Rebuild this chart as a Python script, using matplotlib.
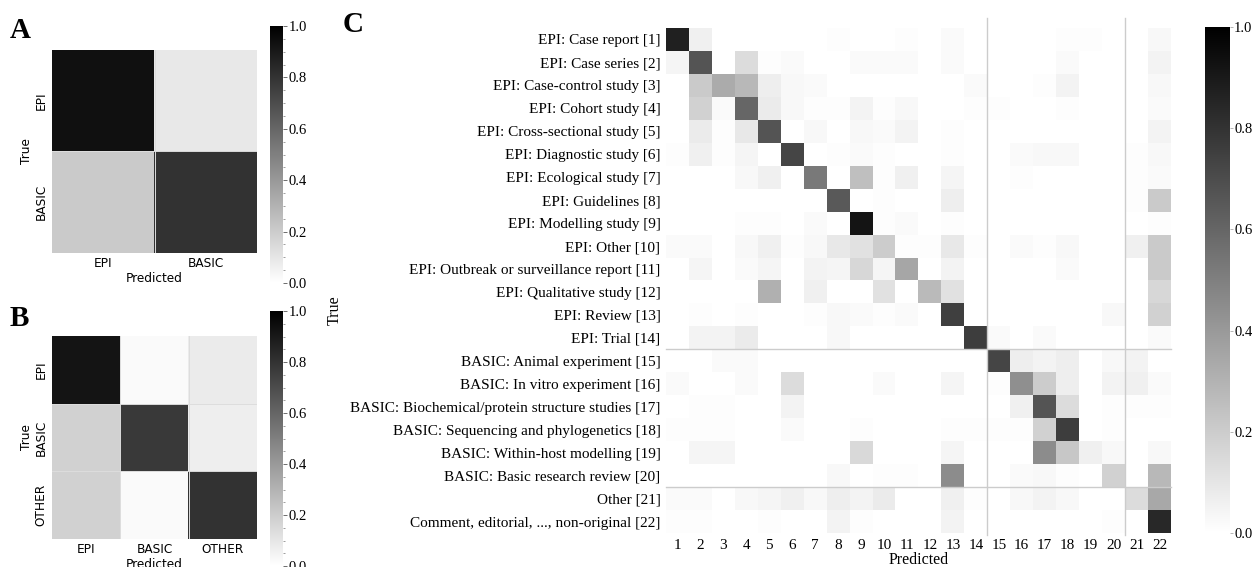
import numpy as np
import matplotlib
matplotlib.use("Agg")
from matplotlib import pyplot as plt
from matplotlib.ticker import AutoMinorLocator

###################################################################################################
# Data
###################################################################################################
labelsA = ["EPI", "BASIC"]
confA = [[0.93, 0.09],
         [0.21, 0.80]]

labelsB = ["EPI", "BASIC", "OTHER"]
confB = [[0.92, 0.02, 0.08],
         [0.18, 0.77, 0.07],
         [0.18, 0.02, 0.80]]

labelsC = ["EPI: Case report [1]",
           "EPI: Case series [2]",
           "EPI: Case-control study [3]",
           "EPI: Cohort study [4]",
           "EPI: Cross-sectional study [5]",
           "EPI: Diagnostic study [6]",
           "EPI: Ecological study [7]",
           "EPI: Guidelines [8]",
           "EPI: Modelling study [9]",
           "EPI: Other [10]",
           "EPI: Outbreak or surveillance report [11]",
           "EPI: Qualitative study [12]",
           "EPI: Review [13]",
           "EPI: Trial [14]",
           "BASIC: Animal experiment [15]",
           "BASIC: In vitro experiment [16]",
           "BASIC: Biochemical/protein structure studies [17]",
           "BASIC: Sequencing and phylogenetics [18]",
           "BASIC: Within-host modelling [19]",
           "BASIC: Basic research review [20]",
           "Other [21]",
           "Comment, editorial, ..., non-original [22]"]
ticksC = [str(i) for i in range(1, 23)]
groupBreaks = [14, 20]   # EPI | BASIC | OTHER

confC = [
    [.87, .06, 0, 0, 0, 0, 0, .01, 0, 0, .01, 0, .02, 0, 0, 0, 0, .01, .01, 0, 0, .03],
    [.04, .67, 0, .14, .01, .02, 0, 0, .02, .02, .02, 0, .02, 0, 0, 0, 0, .02, 0, 0, 0, .05],
    [0, .21, .33, .28, .07, .03, .02, 0, 0, 0, 0, 0, 0, .02, 0, 0, .01, .05, 0, 0, 0, .03],
    [0, .18, .02, .60, .08, .03, .01, .01, .05, .01, .03, 0, 0, .01, .01, 0, 0, .01, 0, 0, 0, .02],
    [0, .08, .01, .09, .67, 0, .03, 0, .03, .02, .05, 0, .01, 0, 0, 0, 0, 0, 0, 0, 0, .05],
    [.01, .06, .01, .04, 0, .73, 0, .01, .02, .01, 0, 0, .01, 0, 0, .02, .03, .03, 0, 0, .01, .03],
    [0, 0, 0, .03, .06, 0, .52, 0, .25, .01, .06, 0, .04, 0, 0, .01, 0, 0, 0, 0, .01, .02],
    [0, 0, 0, 0, 0, 0, 0, .65, 0, .01, 0, 0, .07, 0, 0, 0, 0, 0, 0, 0, .01, .21],
    [0, 0, 0, .01, .01, 0, .02, 0, .92, .01, .02, 0, .01, 0, 0, 0, 0, 0, 0, 0, 0, .01],
    [.02, .02, 0, .03, .06, .01, .03, .09, .12, .20, .01, .01, .09, .01, 0, .02, .01, .03, 0, 0, .06, .21],
    [0, .04, 0, .02, .04, 0, .05, .04, .16, .04, .35, 0, .05, 0, 0, 0, 0, .02, 0, 0, 0, .21],
    [0, 0, 0, 0, .31, 0, .06, 0, 0, .12, 0, .27, .12, 0, 0, 0, 0, 0, 0, 0, 0, .16],
    [0, .01, 0, .01, 0, 0, .01, .03, .02, .01, .02, 0, .75, 0, 0, 0, 0, 0, 0, .03, 0, .18],
    [0, .05, .05, .08, 0, 0, 0, .03, 0, 0, 0, 0, 0, .76, .02, 0, .02, 0, 0, 0, 0, .02],
    [0, 0, .02, .02, 0, 0, 0, 0, 0, 0, 0, 0, 0, 0, .73, .07, .05, .07, 0, .03, .05, 0],
    [.02, 0, 0, .02, 0, .14, 0, 0, 0, .02, 0, 0, .04, 0, .01, .44, .20, .07, 0, .05, .06, .02],
    [0, .01, .01, 0, 0, .05, 0, 0, 0, 0, 0, 0, 0, 0, 0, .06, .67, .14, 0, .01, .01, .01],
    [.01, .01, .01, 0, 0, .02, 0, 0, .01, 0, 0, 0, .01, .01, .01, .01, .18, .76, 0, .01, 0, 0],
    [0, .04, .04, 0, 0, 0, 0, 0, .15, 0, 0, 0, .04, 0, 0, 0, .45, .22, .06, .03, 0, .03],
    [0, 0, 0, 0, 0, 0, 0, .03, 0, .01, .01, 0, .45, 0, 0, .02, .03, .01, 0, .18, 0, .28],
    [.02, .02, 0, .03, .04, .06, .03, .07, .05, .08, 0, 0, .06, .01, 0, .03, .05, .03, 0, 0, .14, .34],
    [.01, .01, 0, 0, .01, 0, 0, .05, .01, 0, 0, 0, .05, 0, 0, 0, 0, 0, 0, .01, 0, .84],
]

###################################################################################################
# Plot
###################################################################################################
W, H = 1255, 567
SERIF = "Liberation Serif"
SANS = "DejaVu Sans"
CMAP = "gray_r"


def px_axes(fig, x0, y0, x1, y1):
    # axes from pixel box (top-left origin)
    return fig.add_axes([x0 / W, 1 - y1 / H, (x1 - x0) / W, (y1 - y0) / H])


def small_matrix(ax, cax, data, labels):
    n = len(labels)
    im = ax.imshow(np.array(data), cmap=CMAP, vmin=0, vmax=1, aspect="auto",
                   interpolation="nearest")
    for k in range(1, n):
        ax.axhline(k - 0.5, color="#dddddd", lw=0.7)
        ax.axvline(k - 0.5, color="#dddddd", lw=0.7)
    ax.set_xticks(range(n))
    ax.set_yticks(range(n))
    ax.set_xticklabels(labels, fontsize=8.7, family=SANS)
    ax.set_yticklabels(labels, fontsize=8.7, family=SANS, rotation=90, va="center")
    ax.tick_params(length=0, pad=3)
    ax.set_xlabel("Predicted", fontsize=8.7, family=SANS, labelpad=1)
    ax.set_ylabel("True", fontsize=8.7, family=SANS, labelpad=1)
    for s in ax.spines.values():
        s.set_visible(False)
    cb = plt.colorbar(im, cax=cax)
    cb.set_ticks([0, 0.2, 0.4, 0.6, 0.8, 1.0])
    cb.ax.yaxis.set_minor_locator(AutoMinorLocator(4))
    cb.ax.tick_params(which="major", length=3, width=0.6, color="#555555", pad=1)
    cb.ax.tick_params(which="minor", length=1.5, width=0.5, color="#777777")
    for t in cb.ax.get_yticklabels():
        t.set_family(SERIF)
        t.set_fontsize(10.5)
    cb.outline.set_visible(False)


fig = plt.figure(figsize=(W / 100, H / 100), dpi=100)

# A
axA = px_axes(fig, 52, 50, 257, 253)
caxA = px_axes(fig, 270, 26, 283, 283)
small_matrix(axA, caxA, confA, labelsA)
fig.text(10 / W, 1 - 30 / H, "A", fontsize=21, fontweight="bold", family=SERIF, va="center")

# B
axB = px_axes(fig, 52, 336, 257, 539)
caxB = px_axes(fig, 270, 311, 283, 566)
small_matrix(axB, caxB, confB, labelsB)
fig.text(10 / W, 1 - 318 / H, "B", fontsize=21, fontweight="bold", family=SERIF, va="center")

# C
axC = px_axes(fig, 666, 28, 1171, 533)
caxC = px_axes(fig, 1205, 27, 1230, 533)
n = len(labelsC)
imC = axC.imshow(np.array(confC), cmap=CMAP, vmin=0, vmax=1, aspect="auto",
                 interpolation="nearest")
for b in groupBreaks:
    axC.plot([-0.5, n - 0.5], [b - 0.5, b - 0.5], color="#cccccc", lw=1, clip_on=False)
    axC.plot([b - 0.5, b - 0.5], [-0.95, n - 0.4], color="#cccccc", lw=1, clip_on=False)
axC.set_xlim(-0.5, n - 0.5)
axC.set_ylim(n - 0.5, -0.5)
axC.set_xticks(range(n))
axC.set_yticks(range(n))
axC.set_xticklabels(ticksC, fontsize=11, family=SERIF)
axC.set_yticklabels(labelsC, fontsize=11, family=SERIF)
axC.tick_params(length=0, pad=4)
axC.set_xlabel("Predicted", fontsize=11.5, family=SERIF, labelpad=0)
for s in axC.spines.values():
    s.set_visible(False)
fig.text(335 / W, 1 - 310 / H, "True", fontsize=11.5, family=SERIF, rotation=90,
         ha="center", va="center")
fig.text(343 / W, 1 - 25 / H, "C", fontsize=21, fontweight="bold", family=SERIF, va="center")

cbC = plt.colorbar(imC, cax=caxC)
cbC.set_ticks([0, 0.2, 0.4, 0.6, 0.8, 1.0])
cbC.ax.tick_params(length=2, width=0.5, color="#999999", pad=1)
for t in cbC.ax.get_yticklabels():
    t.set_family(SERIF)
    t.set_fontsize(10.5)
cbC.outline.set_visible(False)

fig.savefig("out.png", dpi=100)
